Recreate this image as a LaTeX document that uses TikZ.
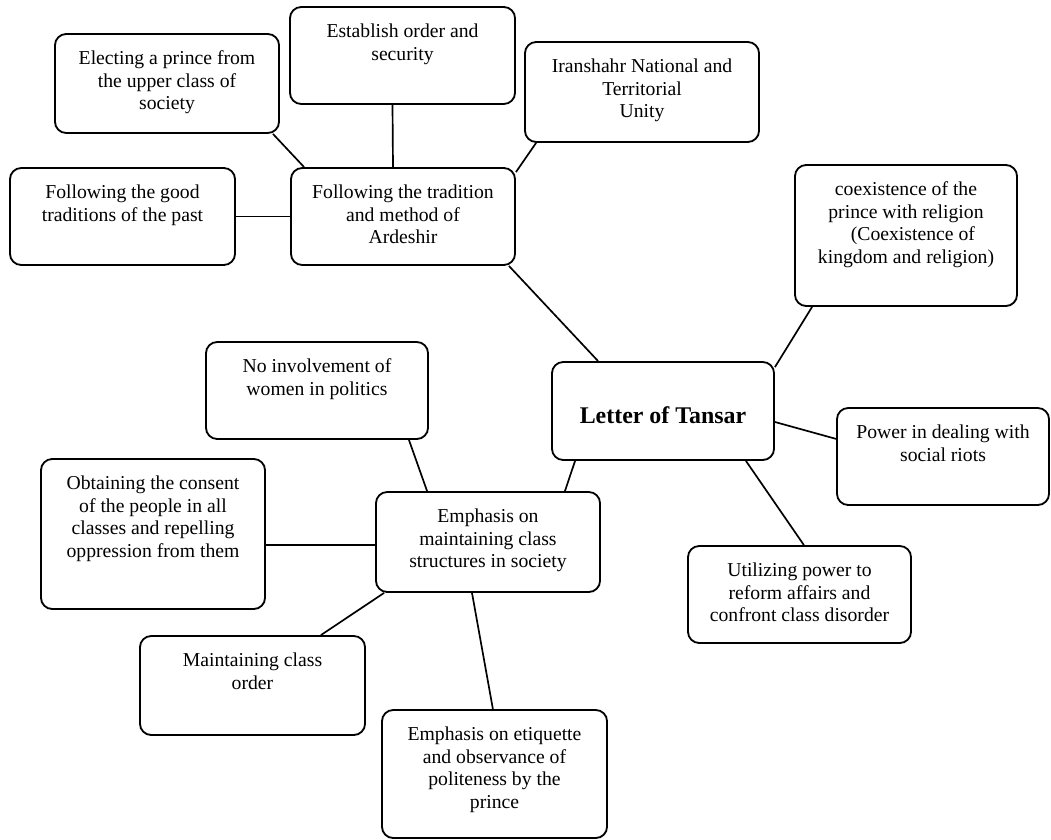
\documentclass[tikz,border=0pt]{standalone}
\usepackage{fontspec}
\setmainfont{Liberation Serif}
\usepackage{tikz}
\tikzset{
box/.style = {rectangle, draw=black, rounded corners=8pt,
              line width=1.3pt, inner sep=0pt},
link/.style = {line width=1.2pt}
}
% text of a box: width, height, lines
\newcommand{\boxtxt}[3]{\parbox[c][#2][t]{#1}{\centering\fontsize{14}{16}\selectfont\rule{0pt}{22pt}#3}}

\begin{document}
\begin{tikzpicture}[x=0.025cm, y=-0.025cm]
    \useasboundingbox (0,0) rectangle (1051,840);

  % Boxes
    \node[box] (elect) at (167,83.5) {\boxtxt{5.6cm}{2.475cm}{Electing a prince from\\the upper class of\\society}};
    \node[box] (security) at (402.5,55.5) {\boxtxt{5.625cm}{2.425cm}{Establish order and\\security}};
    \node[box] (unity) at (642,92) {\boxtxt{5.85cm}{2.5cm}{Iranshahr National and\\Territorial\\Unity}};
    \node[box] (past) at (122.5,216.5) {\boxtxt{5.625cm}{2.425cm}{Following the good\\traditions of the past}};
    \node[box] (ardeshir) at (403,216.5) {\boxtxt{5.6cm}{2.425cm}{Following the tradition\\and method of\\Ardeshir}};
    \node[box] (religion) at (906,235.5) {\boxtxt{5.55cm}{3.525cm}{coexistence of the\\prince with religion\\\hspace*{0.7em}(Coexistence of\\kingdom and religion)}};
    \node[box] (tansar) at (663,411) {\parbox[c][2.45cm][t]{5.55cm}{\centering\fontsize{17}{20}\selectfont\bfseries\rule{0pt}{44pt}Letter of Tansar}};
    \node[box] (women) at (317,390.5) {\boxtxt{5.55cm}{2.425cm}{No involvement of\\women in politics}};
    \node[box] (riots) at (943,456.5) {\boxtxt{5.3cm}{2.425cm}{Power in dealing with\\social riots}};
    \node[box] (consent) at (153,534) {\boxtxt{5.6cm}{3.75cm}{Obtaining the consent\\of the people in all\\classes and repelling\\oppression from them}};
    \node[box] (classes) at (488,542) {\boxtxt{5.6cm}{2.5cm}{Emphasis on\\maintaining class\\structures in society}};
    \node[box] (reform) at (799.5,594.5) {\boxtxt{5.575cm}{2.425cm}{Utilizing power to\\reform affairs and\\confront class disorder}};
    \node[box] (maintain) at (252.5,685.5) {\boxtxt{5.625cm}{2.475cm}{Maintaining class\\order}};
    \node[box] (etiquette) at (494.5,774) {\boxtxt{5.625cm}{3.2cm}{Emphasis on etiquette\\and observance of\\politeness by the\\prince}};

  % Lines
    \draw[link] ([xshift=-0.175cm]elect.south east) -- ([xshift=0.35cm]ardeshir.north west);
    \draw[link] ([xshift=-0.25cm]security.south) -- ([xshift=-0.25cm]ardeshir.north);
    \draw[link] ([yshift=-0.125cm]ardeshir.north east) -- ([xshift=0.3cm]unity.south west);
    \draw[link] (past) -- (ardeshir);
    \draw[link] ([xshift=-0.175cm]ardeshir.south east) -- ([xshift=1.175cm]tansar.north west);
    \draw[link] ([yshift=-0.15cm]tansar.north east) -- ([xshift=0.45cm]religion.south west);
    \draw[link] ([yshift=-0.275cm]tansar.east) -- ([yshift=0.44cm]riots.west);
    \draw[link] ([xshift=-0.725cm]tansar.south east) -- ([xshift=0.11cm]reform.north);
    \draw[link] ([xshift=0.6cm]tansar.south west) -- ([xshift=-0.9cm]classes.north east);
    \draw[link] ([xshift=-0.5cm]women.south east) -- ([xshift=1.3cm]classes.north west);
    \draw[link] ([yshift=-0.275cm]consent.east) -- ([yshift=-0.075cm]classes.west);
    \draw[link] ([xshift=0.225cm]classes.south west) -- ([xshift=-1.125cm]maintain.north east);
    \draw[link] ([xshift=-0.4cm]classes.south) -- ([xshift=-0.04cm]etiquette.north);
\end{tikzpicture}
\end{document}
